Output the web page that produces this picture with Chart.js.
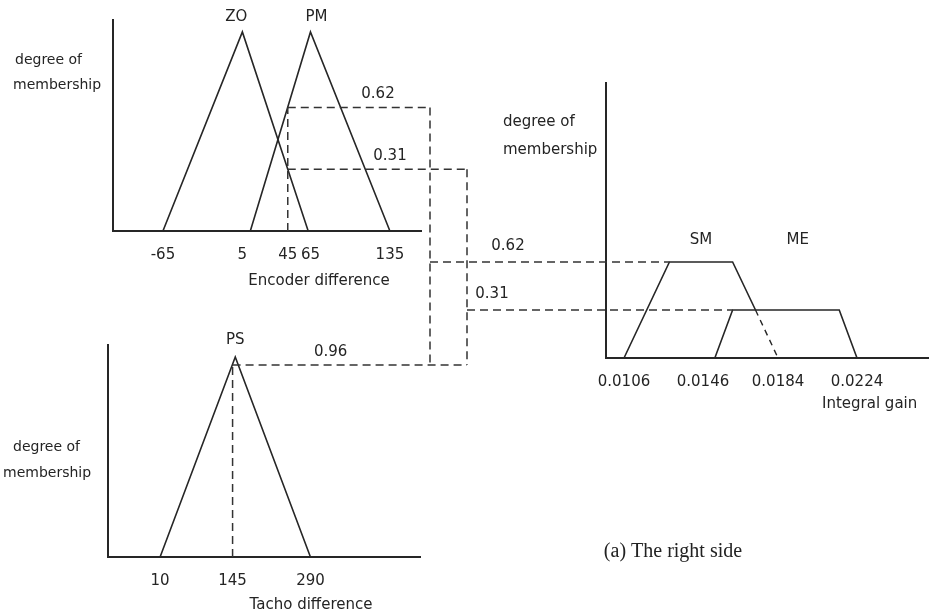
<!DOCTYPE html>
<html>
<head>
<meta charset="utf-8">
<script src="https://cdn.jsdelivr.net/npm/chart.js@4/dist/chart.umd.min.js"></script>
<style>
  html, body { margin: 0; padding: 0; background: #fff; }
  #wrap { position: relative; width: 929px; height: 615px; overflow: hidden; }
  #wrap canvas { position: absolute; left: 0; top: 0; }
</style>
</head>
<body>
<div id="wrap">
  <canvas id="enc" width="929" height="615"></canvas>
  <canvas id="tacho" width="929" height="615"></canvas>
  <canvas id="gain" width="929" height="615"></canvas>
</div>
<script>
// ---- Encoder difference (input 1) ----
const encTicks = [-65, 5, 45, 65, 135];
const zoX = [-65, 5, 63];
const zoY = [0, 1, 0];
const pmX = [12, 65, 135];
const pmY = [0, 1, 0];
const encSetNames = ['ZO', 'PM'];
const encSetPeaks = [5, 65];
const encInput = 45;
const encPM = 0.62;
const encZO = 0.31;

// ---- Tacho difference (input 2) ----
const tachoTicks = [10, 145, 290];
const psX = [10, 150, 290];
const psY = [0, 1, 0];
const tachoSetPeak = 150;
const tachoInput = 145;
const tachoPS = 0.96;

// ---- Integral gain (output) ----
const gainTicks = [0.0106, 0.0146, 0.0184, 0.0224];
const smX = [0.0106, 0.0129, 0.0161, 0.01726];
const smY = [0, 0.62, 0.62, 0.31];
const smTailX = [0.01726, 0.0184];
const smTailY = [0.31, 0];
const meX = [0.0152, 0.0161, 0.0215, 0.0224];
const meY = [0, 0.31, 0.31, 0];
const gainSetNames = ['SM', 'ME'];
const gainSetPeaks = [0.0145, 0.0194];
const ruleSM = 0.62;
const ruleME = 0.31;

const INK = '#262626';
const TEXT = '#242424';
const SANS = '"DejaVu Sans", Verdana, sans-serif';
const SERIF = '"Liberation Serif", "Times New Roman", serif';

function pts(xs, ys) { return xs.map((x, i) => ({ x: x, y: ys[i] })); }

function lineSet(xs, ys, dash) {
  return {
    data: pts(xs, ys), showLine: true, borderColor: INK, borderWidth: 1.6,
    pointRadius: 0, pointHoverRadius: 0, fill: false, tension: 0,
    borderDash: dash || [], clip: false
  };
}

// x axis keeps a fixed band below the plot for its tick labels; y axis is a bare line
function axes(xmin, xmax, ymax, ticks, labelBand) {
  return {
    x: {
      type: 'linear', min: xmin, max: xmax,
      grid: { display: false, drawTicks: false },
      border: { display: true, color: INK, width: 2 },
      afterBuildTicks: s => { s.ticks = ticks.map(v => ({ value: v })); },
      afterFit: s => { s.height = labelBand; },
      ticks: {
        autoSkip: false, maxRotation: 0, minRotation: 0, padding: 15,
        color: TEXT, font: { family: SANS, size: 15 },
        callback: v => String(v)
      }
    },
    y: {
      type: 'linear', min: 0, max: ymax,
      grid: { display: false, drawTicks: false },
      border: { display: true, color: INK, width: 2 },
      ticks: { display: false },
      afterFit: s => { s.width = 0; }
    }
  };
}

function textPlugin(id, itemsFn) {
  return {
    id: id,
    afterDraw(chart) {
      const ctx = chart.ctx;
      ctx.save();
      ctx.textBaseline = 'middle';
      for (const t of itemsFn(chart)) {
        ctx.font = t.font || ('14px ' + SANS);
        ctx.fillStyle = t.color || TEXT;
        ctx.textAlign = t.align || 'center';
        ctx.fillText(t.text, t.x, t.y);
      }
      ctx.restore();
    }
  };
}

function baseOptions(pad, scales) {
  return {
    responsive: false, animation: false, devicePixelRatio: 1,
    layout: { padding: pad },
    plugins: { legend: { display: false }, tooltip: { enabled: false } },
    events: [],
    scales: scales
  };
}

// Encoder difference chart
const encChart = new Chart(document.getElementById('enc'), {
  type: 'scatter',
  data: { datasets: [lineSet(zoX, zoY), lineSet(pmX, pmY)] },
  options: baseOptions({ left: 113, top: 20, right: 508, bottom: 324 },
                       axes(-109, 162.4, 1.06, encTicks, 60)),
  plugins: [textPlugin('encText', c => {
    const a = c.chartArea, sx = c.scales.x, sy = c.scales.y;
    return [
      { text: encSetNames[0], x: sx.getPixelForValue(encSetPeaks[0]) - 6, y: sy.getPixelForValue(1) - 15, font: '15px ' + SANS },
      { text: encSetNames[1], x: sx.getPixelForValue(encSetPeaks[1]) + 6, y: sy.getPixelForValue(1) - 15, font: '15px ' + SANS },
      { text: 'degree of', x: a.left - 98, y: a.top + 40, align: 'left' },
      { text: 'membership', x: a.left - 100, y: a.top + 65, align: 'left' },
      { text: 'Encoder difference', x: (a.left + a.right) / 2 + 52, y: a.bottom + 50, font: '15px ' + SANS },
      { text: String(encPM), x: a.right - 43, y: sy.getPixelForValue(encPM) - 13, font: '15px ' + SANS },
      { text: String(encZO), x: a.right - 31, y: sy.getPixelForValue(encZO) - 13, font: '15px ' + SANS }
    ];
  })]
});

// Tacho difference chart
const tachoChart = new Chart(document.getElementById('tacho'), {
  type: 'scatter',
  data: { datasets: [lineSet(psX, psY)] },
  options: baseOptions({ left: 108, top: 345, right: 509, bottom: 18 },
                       axes(-87, 494, 1.06, tachoTicks, 40)),
  plugins: [textPlugin('tachoText', c => {
    const a = c.chartArea, sx = c.scales.x, sy = c.scales.y;
    return [
      { text: 'PS', x: sx.getPixelForValue(tachoSetPeak), y: sy.getPixelForValue(1) - 17, font: '15px ' + SANS },
      { text: 'degree of', x: a.left - 95, y: a.top + 102, align: 'left' },
      { text: 'membership', x: a.left - 105, y: a.top + 128, align: 'left' },
      { text: 'Tacho difference', x: a.left + 203, y: a.bottom + 48, font: '15px ' + SANS },
      { text: String(tachoPS), x: sx.getPixelForValue(tachoInput) + 98, y: sy.getPixelForValue(tachoPS) - 13, font: '15px ' + SANS }
    ];
  })]
});

// Dashed inference paths linking the three membership plots
const connectors = {
  id: 'connectors',
  afterDraw(chart) {
    const ctx = chart.ctx;
    const ex = encChart.scales.x, ey = encChart.scales.y;
    const tx = tachoChart.scales.x, ty = tachoChart.scales.y;
    const gx = chart.scales.x, gy = chart.scales.y;
    const xA = encChart.chartArea.right + 9;
    const xB = encChart.chartArea.right + 46;
    const xE = ex.getPixelForValue(encInput);
    const yE62 = ey.getPixelForValue(encPM), yE31 = ey.getPixelForValue(encZO);
    const xT = tx.getPixelForValue(tachoInput);
    const yT = ty.getPixelForValue(tachoPS);
    const yG62 = gy.getPixelForValue(ruleSM), yG31 = gy.getPixelForValue(ruleME);
    const seg = (x1, y1, x2, y2) => { ctx.beginPath(); ctx.moveTo(x1, y1); ctx.lineTo(x2, y2); ctx.stroke(); };
    ctx.save();
    ctx.strokeStyle = '#333';
    ctx.lineWidth = 1.5;
    ctx.setLineDash([8, 5]);
    // encoder input reading
    seg(xE, ey.getPixelForValue(0), xE, yE62);
    seg(xE, yE62, xA, yE62);
    seg(xE, yE31, xB, yE31);
    // tacho input reading
    seg(xT, ty.getPixelForValue(0), xT, yT);
    seg(xT, yT, xB, yT);
    // rule columns
    seg(xA, yE62, xA, yT);
    seg(xB, yE31, xB, yT);
    // rule outputs into the integral gain sets
    seg(xA, yG62, gx.getPixelForValue(smX[1]), yG62);
    seg(xB, yG31, gx.getPixelForValue(meX[1]), yG31);
    ctx.restore();

    ctx.save();
    ctx.fillStyle = TEXT;
    ctx.textBaseline = 'middle';
    ctx.textAlign = 'center';
    ctx.font = '15px ' + SANS;
    ctx.fillText(String(ruleSM), xA + 78, yG62 - 16);
    ctx.fillText(String(ruleME), xB + 25, yG31 - 16);
    ctx.restore();
  }
};

// Integral gain chart
const gainChart = new Chart(document.getElementById('gain'), {
  type: 'scatter',
  data: {
    datasets: [
      lineSet(smX, smY),
      Object.assign(lineSet(smTailX, smTailY, [6, 5]), { borderWidth: 1.4 }),
      lineSet(meX, meY)
    ]
  },
  options: baseOptions({ left: 606, top: 83, right: 0, bottom: 187 },
                       axes(0.009688, 0.026046, 1.776, gainTicks, 70)),
  plugins: [connectors, textPlugin('gainText', c => {
    const a = c.chartArea, sx = c.scales.x, sy = c.scales.y;
    return [
      { text: gainSetNames[0], x: sx.getPixelForValue(gainSetPeaks[0]), y: sy.getPixelForValue(ruleSM) - 22, font: '15px ' + SANS },
      { text: gainSetNames[1], x: sx.getPixelForValue(gainSetPeaks[1]), y: sy.getPixelForValue(ruleSM) - 22, font: '15px ' + SANS },
      { text: 'degree of', x: a.left - 103, y: a.top + 39, align: 'left', font: '15px ' + SANS },
      { text: 'membership', x: a.left - 103, y: a.top + 67, align: 'left', font: '15px ' + SANS },
      { text: 'Integral gain', x: a.left + 216, y: a.bottom + 46, align: 'left', font: '15px ' + SANS },
      { text: '(a) The right side', x: a.left + 67, y: a.bottom + 194, font: '20px ' + SERIF, color: '#222' }
    ];
  })]
});
</script>
</body>
</html>
